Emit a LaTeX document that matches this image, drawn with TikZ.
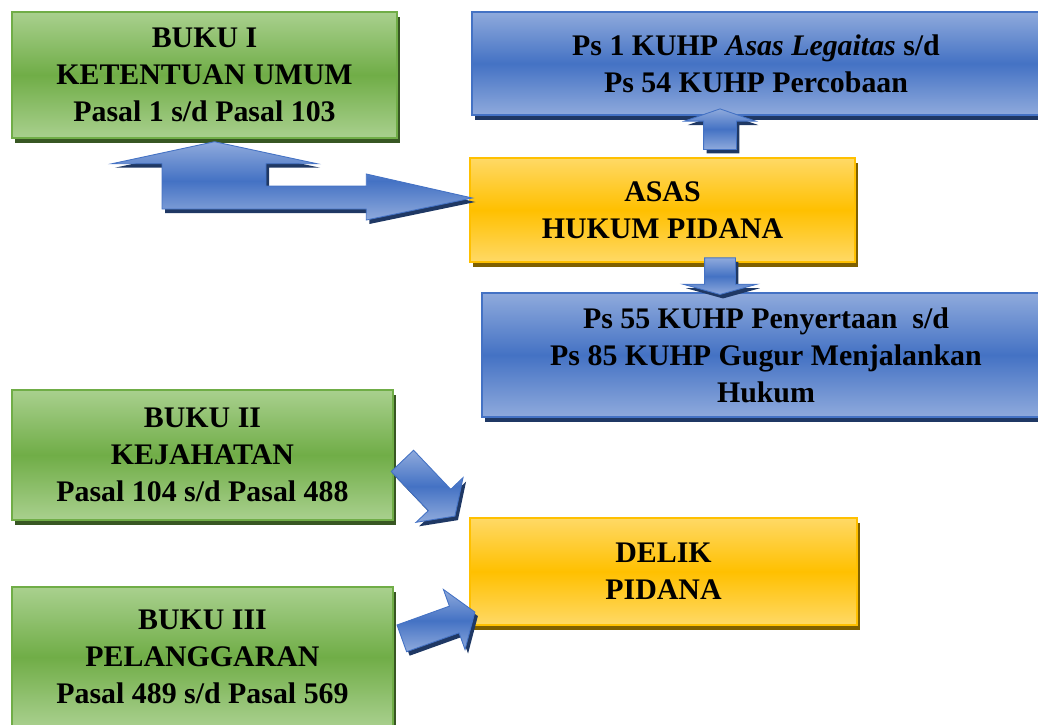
\documentclass[tikz,border=0pt]{standalone}
\usepackage{fontspec}
\setmainfont{Liberation Serif}
\usepackage{tikz}
\usetikzlibrary{shapes.arrows,calc}

\definecolor{grnlight}{RGB}{169,208,142}
\definecolor{grnmid}{RGB}{112,173,71}
\definecolor{grndark}{RGB}{56,87,35}
\definecolor{blulight}{RGB}{143,170,220}
\definecolor{blumid}{RGB}{68,114,196}
\definecolor{bludark}{RGB}{31,56,100}
\definecolor{ylwlight}{RGB}{255,217,102}
\definecolor{ylwmid}{RGB}{255,192,0}
\definecolor{ylwdark}{RGB}{127,96,0}

\tikzset{
  box/.style={draw=#1mid,line width=0.8pt,top color=#1light,bottom color=#1light,middle color=#1mid,
    preaction={fill=#1dark,transform canvas={xshift=0.06cm,yshift=-0.1cm}},
    align=center,inner sep=0pt,font=\bfseries\fontsize{17}{21}\selectfont},
  arrowfill/.style={draw=blumid,line width=0.5pt,top color=blulight,bottom color=blulight,middle color=blumid,
    preaction={fill=bludark,transform canvas={xshift=0.06cm,yshift=-0.08cm}}},
  blkarrow/.style={arrowfill,single arrow,inner xsep=0pt,minimum width=0pt}
}

% block arrow between two named points
\newcommand{\blockarrow}[3][]{%
  \path let \p1=(#2), \p2=(#3), \n1={atan2(\y2-\y1,\x2-\x1)}, \n2={veclen(\x2-\x1,\y2-\y1)} in
    node[blkarrow,#1,rotate=\n1,minimum height=\n2] at ($(#2)!0.5!(#3)$) {};}

\begin{document}
\begin{tikzpicture}

\useasboundingbox (0,0) rectangle (20.76,-14.48);

% Buku I
\node[box=grn,minimum width=7.7cm,minimum height=2.52cm] (buku1) at (4.09,-1.5) {BUKU I\\KETENTUAN UMUM\\Pasal 1 s/d Pasal 103};

% Ps 1 - Ps 54
\node[box=blu,minimum width=11.36cm,minimum height=2.06cm] (ps1) at (15.12,-1.27) {Ps 1 KUHP \textit{Asas Legaitas} s/d\\Ps 54 KUHP Percobaan};

% Asas
\node[box=ylw,minimum width=7.7cm,minimum height=2.08cm] (asas) at (13.25,-4.2) {ASAS\\HUKUM PIDANA};

% Ps 55 - Ps 85
\node[box=blu,minimum width=11.36cm,minimum height=2.48cm] (ps55) at (15.32,-7.1) {Ps 55 KUHP Penyertaan~ s/d\\Ps 85 KUHP Gugur Menjalankan\\Hukum};

% Buku II
\node[box=grn,minimum width=7.62cm,minimum height=2.6cm] (buku2) at (4.05,-9.1) {BUKU II\\KEJAHATAN\\Pasal 104 s/d Pasal 488};

% Delik
\node[box=ylw,minimum width=7.74cm,minimum height=2.14cm] (delik) at (13.27,-11.43) {DELIK\\PIDANA};

% Buku III
\node[box=grn,minimum width=7.62cm,minimum height=2.8cm] (buku3) at (4.05,-13.14) {BUKU III\\PELANGGARAN\\Pasal 489 s/d Pasal 569};

% Arrow ends
\coordinate (t1) at ([xshift=0.2cm,yshift=-0.06cm]buku1.south);
\coordinate (t2) at ([xshift=0.06cm,yshift=0.24cm]asas.west);
\coordinate (upfrom) at ([xshift=1.15cm,yshift=0.1cm]asas.north);
\coordinate (upto) at ($(upfrom |- ps1.south)+(0,0.08)$);
\coordinate (dnfrom) at ([xshift=1.15cm,yshift=0.14cm]asas.south);
\coordinate (dnto) at (dnfrom |- ps55.north);
\coordinate (b2from) at ([xshift=0.1cm,yshift=-0.04cm]buku2.east);
\coordinate (b2to) at ([xshift=-0.36cm,yshift=0.1cm]delik.north west);
\coordinate (b3from) at ([xshift=0.07cm,yshift=0.34cm]buku3.east);
\coordinate (b3to) at ([xshift=0.02cm,yshift=0.24cm]delik.south west);

% Arrows
\draw[arrowfill] (t1) -- ++(2.05,-0.44) -- ++(-1.02,0) |- ($(t2)+(-2.12,0.24)$) -- ++(0,0.24) -- (t2)
  -- ($(t2)+(-2.12,-0.44)$) -- ++(0,0.22) -| ($(t1)+(-1.05,-0.44)$) -- ++(-1.0,0) -- cycle;
\blockarrow[inner ysep=0.32cm,single arrow head extend=0.38cm,single arrow tip angle=142]{upfrom}{upto}
\blockarrow[inner ysep=0.3cm,single arrow head extend=0.43cm,single arrow tip angle=149]{dnfrom}{dnto}
\blockarrow[inner ysep=0.3cm,single arrow head extend=0.34cm,single arrow tip angle=111]{b2from}{b2to}
\blockarrow[inner ysep=0.275cm,single arrow head extend=0.355cm,single arrow tip angle=111]{b3from}{b3to}

\end{tikzpicture}
\end{document}
